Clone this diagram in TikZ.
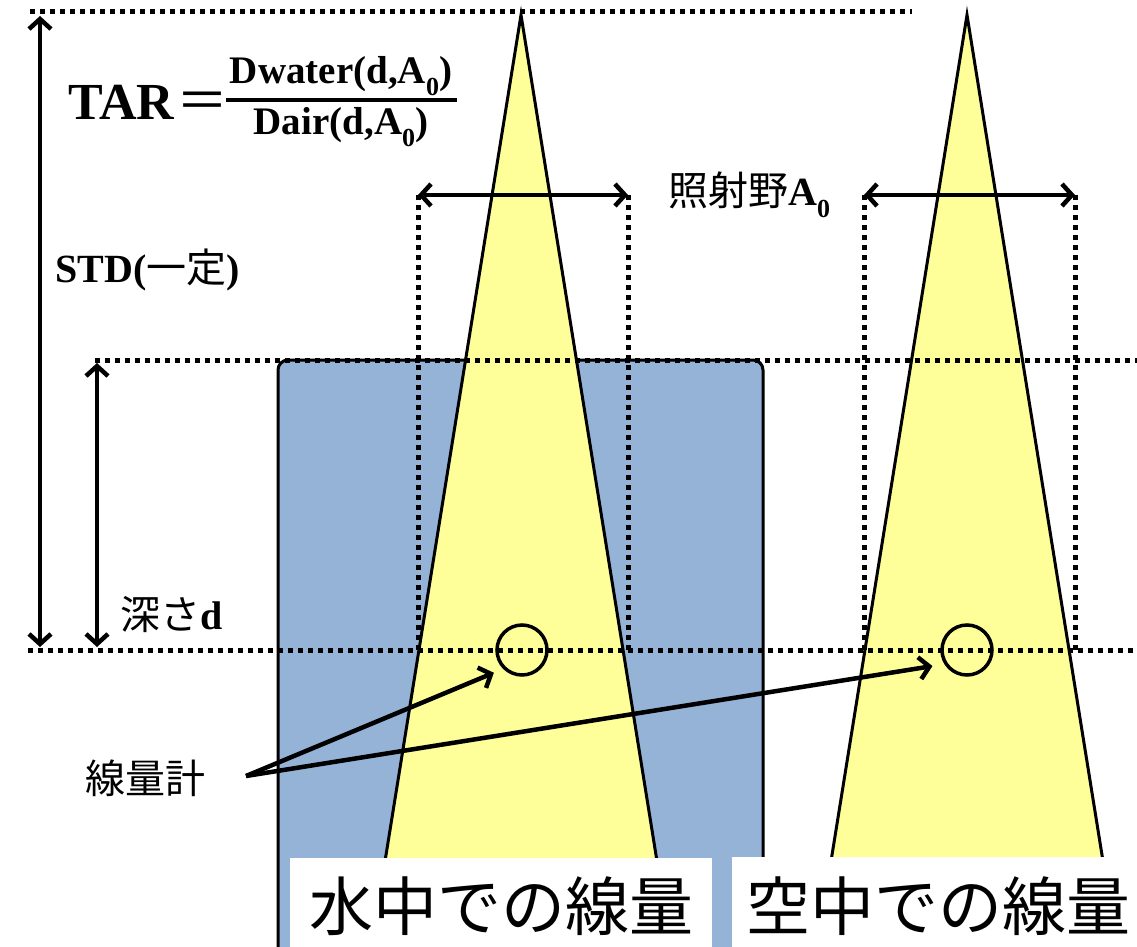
\documentclass[tikz,border=0pt]{standalone}
\usepackage{fontspec}
\setmainfont{Liberation Serif}
\newfontfamily\jp{Noto Sans CJK JP}
\usetikzlibrary{arrows.meta}
\definecolor{water}{HTML}{95B3D7}
\definecolor{beam}{HTML}{FFFF99}
\tikzset{
  dotline/.style={line width=5pt, dash pattern=on 4.5pt off 5.5pt},
  tipb/.tip={Straight Barb[length=10pt,width=22pt,line width=4.5pt]},
  dimarrow/.style={line width=4.5pt, {tipb}-{tipb}},
  ptr/.style={line width=4.5pt, -{tipb}},
  beamshape/.style={fill=beam, draw=black, line width=3pt, line join=miter},
  lbl/.style={inner sep=0pt, font=\fontsize{40}{44}\selectfont\bfseries},
  bigl/.style={inner sep=0pt, font=\fontsize{64}{70}\selectfont\jp},
  detector/.style={draw, circle, line width=3.5pt, minimum size=50pt, inner sep=0pt}
}
\newcommand{\subz}{\raisebox{-0.3em}{\fontsize{26}{28}\selectfont 0}}
\newcommand{\jpm}[1]{{\jp\mdseries\fontsize{40}{44}\selectfont #1}}
\begin{document}
\begin{tikzpicture}[x=1pt,y=-1pt]
\useasboundingbox (0,0) rectangle (1137,947);
\clip (0,0) rectangle (1137,947);
% water phantom
\draw[fill=water, line width=3pt, rounded corners=10pt] (278,360) rectangle (763,1010);
% beams
\draw[beamshape] (521,15) -- (368,967) -- (674,967) -- cycle;
\draw[beamshape] (967,15) -- (814,967) -- (1120,967) -- cycle;
% dotted reference lines
\draw[dotline] (30,12) -- (912,12);
\draw[dotline] (95,360) -- (1137,360);
\draw[dotline] (28,650) -- (1137,650);
\draw[dotline] (418,195) -- (418,650);
\draw[dotline] (628,195) -- (628,650);
\draw[dotline] (864,195) -- (864,650);
\draw[dotline] (1075,195) -- (1075,650);
% detectors
\node[detector] (c1) at (522,650) {};
\node[detector] (c2) at (967,650) {};
% dimension arrows
\coordinate (stdtop) at (40,16);
\coordinate (stdbot) at (40,647);
\draw[dimarrow] (stdtop) -- (stdbot);
\coordinate (dtop) at (97,363);
\coordinate (dbot) at (97,647);
\draw[dimarrow] (dtop) -- (dbot);
\coordinate (f1l) at (418,195);
\coordinate (f1r) at (628,195);
\draw[dimarrow] (f1l) -- (f1r);
\coordinate (f2l) at (864,195);
\coordinate (f2r) at (1075,195);
\draw[dimarrow] (f2l) -- (f2r);
% formula
\node[anchor=west, inner sep=0pt, font=\fontsize{52}{56}\selectfont\bfseries] (tar) at (68,102) {TAR\hspace{2pt}{\jp\mdseries ＝}};
\node[lbl, font=\fontsize{39}{42}\selectfont\bfseries] (num) at (341,76) {Dwater(d,A\subz)};
\node[lbl, font=\fontsize{39}{42}\selectfont\bfseries] (den) at (341,127) {Dair(d,A\subz)};
\draw[line width=3.5pt] (226,100) -- (457,100);
% labels
\node[lbl, anchor=west] (std) at (55,270) {STD(\jpm{一定})};
\node[lbl, anchor=west] (depth) at (120,615) {\jpm{深さ}d};
\node[lbl, anchor=west] (field) at (668,195) {\jpm{照射野}A\subz};
\node[lbl, anchor=west] (dos) at (85,778) {\jpm{線量計}};
\coordinate (dosp) at (246,776);
\draw[ptr, shorten >=10pt] (dosp) -- (c1.225);
\draw[ptr, shorten >=12pt] (dosp) -- (c2.212);
% bottom captions
\fill[white] (290,858) rectangle (712,960);
\fill[white] (732,857) rectangle (1140,960);
\node[bigl] (cw) at (501,906) {水中での線量};
\node[bigl] (ca) at (938,906) {空中での線量};
\end{tikzpicture}
\end{document}
